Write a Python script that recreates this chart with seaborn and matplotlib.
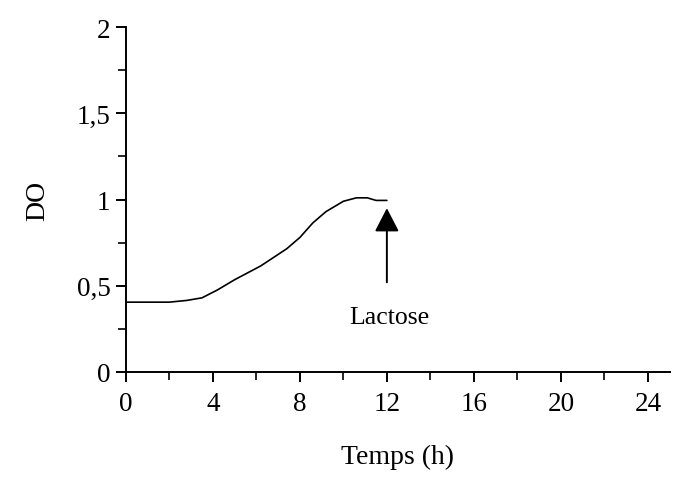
import matplotlib
matplotlib.use("Agg")
import matplotlib.pyplot as plt
import seaborn as sns
import pandas as pd
from matplotlib.ticker import MultipleLocator

# courbe de croissance (DO en fonction du temps)
temps = [0, 1, 2, 2.8, 3.5, 4.2, 5.0, 6.2, 7.4, 8.0, 8.6, 9.2, 10.0, 10.6, 11.1, 11.5, 12.0]
do = [0.405, 0.405, 0.405, 0.415, 0.43, 0.475, 0.535, 0.615, 0.715, 0.78, 0.865, 0.93, 0.99, 1.01, 1.01, 0.995, 0.995]

y_ticks = [0, 0.5, 1, 1.5, 2]
y_labels = ['0', '0,5', '1', '1,5', '2']
x_ticks = [0, 4, 8, 12, 16, 20, 24]

df = pd.DataFrame({'Temps (h)': temps, 'DO': do})

sns.set_theme(style='white')
plt.rcParams['font.family'] = ['Liberation Serif', 'DejaVu Serif']

fig = plt.figure(figsize=(6.73, 5.02), dpi=100)
ax = fig.add_axes([0.187, 0.257, 0.808, 0.687])

sns.lineplot(data=df, x='Temps (h)', y='DO', color='black', linewidth=1.2, ax=ax)

ax.set_xlim(0, 25)
ax.set_ylim(0, 2)
ax.set_xticks(x_ticks)
ax.xaxis.set_minor_locator(MultipleLocator(2))
ax.set_yticks(y_ticks)
ax.set_yticklabels(y_labels)
ax.yaxis.set_minor_locator(MultipleLocator(0.25))

sns.despine(ax=ax)
for s in ['left', 'bottom']:
    ax.spines[s].set_color('black')
    ax.spines[s].set_linewidth(1.4)

ax.tick_params(which='major', direction='out', length=7, width=1.4, color='black',
               labelsize=19.5, labelcolor='black', left=True, bottom=True)
ax.tick_params(axis='x', which='major', pad=7)
ax.tick_params(axis='y', which='major', pad=4)
ax.tick_params(which='minor', direction='out', length=6, width=1.2, color='black',
               left=True, bottom=True)

ax.set_xlabel('Temps (h)', fontsize=20, color='black', labelpad=20)
ax.set_ylabel('DO', fontsize=20, color='black', labelpad=19)

# flèche : ajout du lactose
ax.annotate('', xy=(12, 0.95), xytext=(12, 0.52),
            arrowprops=dict(arrowstyle='-|>,head_width=0.75,head_length=1.45',
                            mutation_scale=10, color='black', linewidth=1.4,
                            shrinkA=0, shrinkB=0))
ax.text(12.1, 0.32, 'Lactose', ha='center', va='center', fontsize=18.5, color='black')

fig.savefig('out.png', dpi=100)
